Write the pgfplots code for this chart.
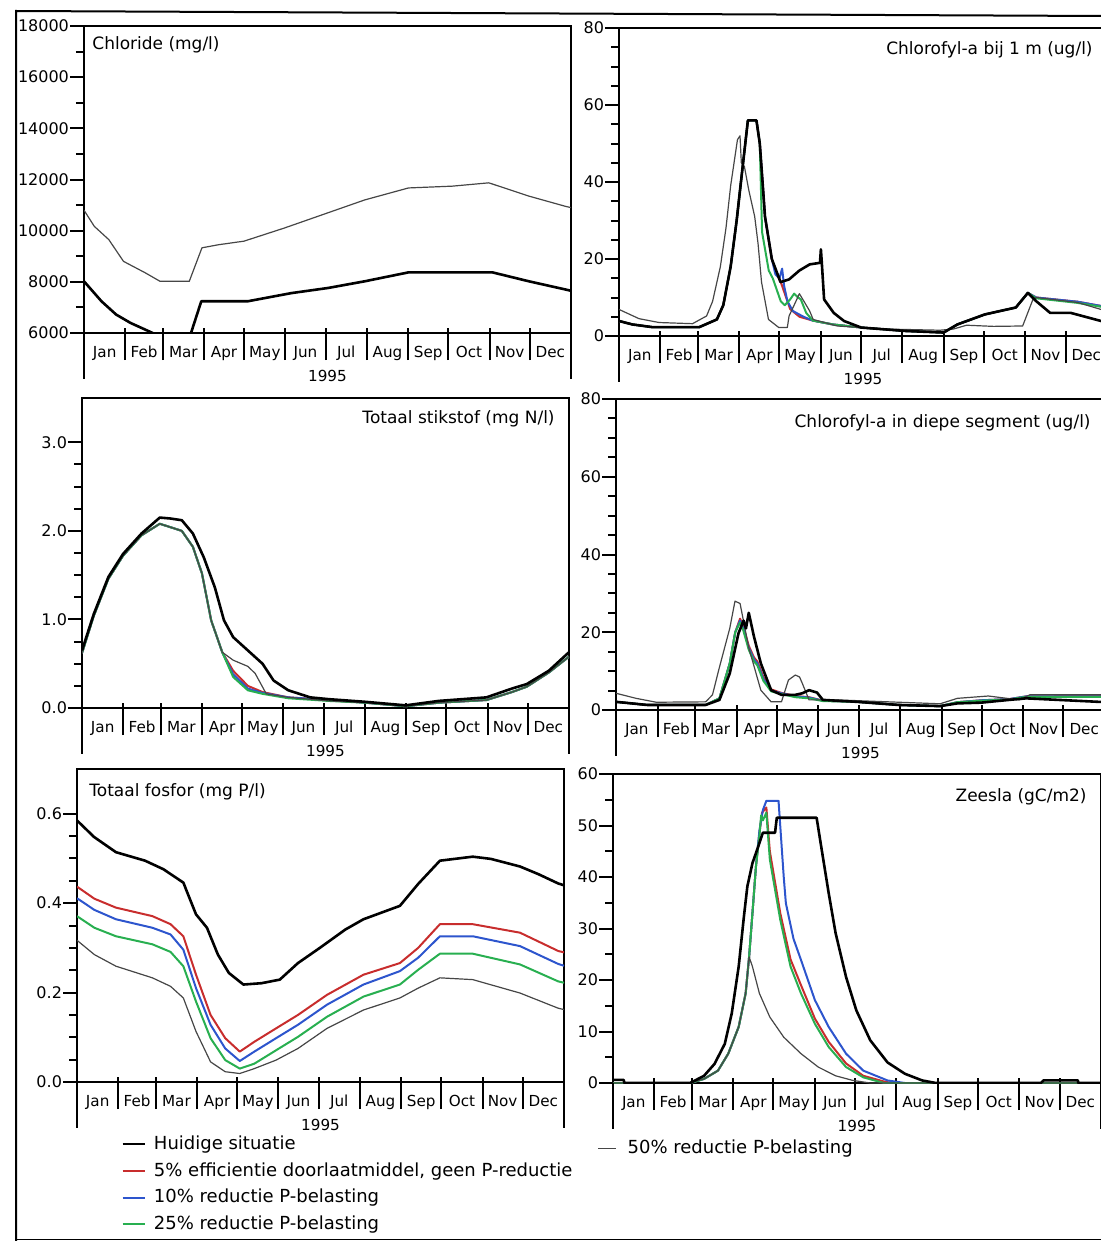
\documentclass[border=0pt]{standalone}
\usepackage{fontspec}
\setmainfont{DejaVu Sans}
\usepackage{pgfplots}
\pgfplotsset{compat=1.18}
\definecolor{cred}{RGB}{200,45,45}
\definecolor{cblue}{RGB}{45,85,205}
\definecolor{cgreen}{RGB}{40,175,80}
\definecolor{cthin}{RGB}{70,70,70}
\newcommand\tkf{\fontsize{7.6}{9}\selectfont}
\newcommand\ykf{\fontsize{8}{9.5}\selectfont}
\newcommand\ttl{\fontsize{8.5}{10}\selectfont}
\pgfplotsset{
  panel/.style={
    scale only axis, anchor=south west, xmin=0, xmax=365,
    clip mode=individual, scaled y ticks=false,
    axis line style={line width=1pt},
    every tick/.style={black, line width=1pt},
    tick align=outside,
    major tick length=7pt, minor tick length=4pt,
    xtick pos=bottom, ytick pos=left,
    xtick={15.5,45,74.5,105,135.5,166,196.5,227.5,258,288.5,319,349.5},
    xticklabels={Jan,Feb,Mar,Apr,May,Jun,Jul,Aug,Sep,Oct,Nov,Dec},
    xtick style={draw=none},
    x tick label style={font=\tkf, yshift=4pt},
    extra x ticks={31,59,90,120,151,181,212,243,273,304,334},
    extra x tick labels={},
    extra x tick style={major tick length=16pt, xtick style={draw=black, yshift=2.5pt}},
    y tick label style={font=\ykf, xshift=3pt},
    xlabel={1995},
    xlabel style={font=\tkf, at={(axis description cs:0.5,0)}, anchor=center, yshift=-21.5pt},
  },
  huidig/.style={black, line width=1.3pt, line join=round},
  pA/.style={color=cred, line width=1pt, line join=round},
  pB/.style={color=cblue, line width=1pt, line join=round},
  pC/.style={color=cgreen, line width=1pt, line join=round},
  pD/.style={color=cthin, line width=0.6pt, line join=round},
}
\begin{document}
\begin{tikzpicture}[x=0.5pt,y=-0.5pt]
\path[use as bounding box] (0,0) rectangle (1101,1241);
\coordinate (o1) at (84,333);
\coordinate (o2) at (619,336);
\coordinate (o3) at (82,708);
\coordinate (o4) at (616,710);
\coordinate (o5) at (77,1082);
\coordinate (o6) at (613,1083);

% ---------------- Chloride
\begin{axis}[panel, name=P1, at={(o1)}, width=243.5pt, height=153.5pt,
  ymin=6000, ymax=18000, ytick={6000,8000,10000,12000,14000,16000,18000},
  yticklabels={6000,8000,10000,12000,14000,16000,18000}, minor y tick num=1]
\addplot[pD] coordinates {(0,10800)(7.7,10170)(18.6,9650)(29.6,8800)(46,8350)(57,8020)(78.9,8020)(88.4,9330)(100.8,9450)(119.9,9590)(150,10100)(182.9,10700)(210.3,11200)(243.2,11670)(276,11740)(303.4,11870)(333.5,11350)(360.9,10950)(365,10900)};
\addplot[huidig] coordinates {(0,8020)(13.1,7240)(24.1,6720)(35,6390)(51.5,6000)(53,5900)(80,5900)(80.2,6000)(87.9,7240)(122.7,7240)(155.5,7560)(182.9,7760)(210.3,8020)(243.2,8370)(276,8370)(306.1,8370)(333.5,8020)(360.9,7700)(365,7650)};
\end{axis}

% ---------------- Chlorofyl-a bij 1 m
\begin{axis}[panel, name=P2, at={(o2)}, width=244pt, height=154pt,
  ymin=0, ymax=80, ytick={0,20,40,60,80}, yticklabels={0,20,40,60,80}, minor y tick num=3]
\addplot[pA] coordinates {(0,3.9)(10,3.0)(25,2.3)(60,2.3)(73.2,4.3)(78,8)(83.5,18)(88,30)(91.2,40)(96.4,56)(102.8,56)(105.3,50)(109.2,31)(114.3,20)(118,16)(121,14)(124,11)(128,7)(135,5)(145,4)(160,3)(181.1,2.2)(214.5,1.3)(242.8,0.9)(253.1,3)(273.6,5.6)(296.8,7.4)(305.8,11.2)(312,10)(343,8.9)(360.5,7.8)(365,7.5)};
\addplot[pB] coordinates {(0,3.9)(10,3.0)(25,2.3)(60,2.3)(73.2,4.3)(78,8)(83.5,18)(88,30)(91.2,40)(96.4,56)(102.8,56)(105.3,50)(109.2,31)(114.3,20)(117,16)(120,15)(122,17.5)(123.5,13)(126,9)(130,6.5)(138,5)(145,4)(160,3)(181.1,2.2)(214.5,1.3)(242.8,0.9)(253.1,3)(273.6,5.6)(296.8,7.4)(305.8,11.2)(312,10)(343,8.9)(360.5,7.8)(365,7.5)};
\addplot[pC] coordinates {(0,3.9)(10,3.0)(25,2.3)(60,2.3)(73.2,4.3)(78,8)(83.5,18)(88,30)(91.2,40)(96.4,56)(102.8,56)(105.3,50)(107,27)(112,17)(115,15)(118,12)(121,9)(124,8)(128,9.5)(131,11)(134,10)(136,9.5)(140,6)(145,4)(160,3)(181.1,2.2)(214.5,1.3)(242.8,0.9)(253.1,3)(273.6,5.6)(296.8,7.4)(305.8,11.2)(312,9.8)(343,8.6)(360.5,7.6)(365,7.3)};
\addplot[pD] coordinates {(0,6.9)(15,4.5)(30,3.5)(55,3.2)(65.5,5.2)(70,9)(75.8,18)(80,28)(83.5,39)(88.6,51)(90.5,52)(91.5,45)(93.8,44)(97,38)(101.5,31)(104,24)(106.6,14)(111.8,4.3)(119.5,2.2)(125.9,2.2)(127.2,5.2)(132.3,9)(134.9,11)(137.5,9.5)(142.6,6.5)(145.2,4.3)(163.2,2.6)(200,1.8)(240,1.5)(250,1.8)(260,2.8)(280,2.5)(301.9,2.6)(309.6,9.5)(312.2,10)(343,8.7)(360.5,6.9)(365,6.5)};
\addplot[huidig] coordinates {(0,3.9)(10,3.0)(25,2.3)(60,2.3)(73.2,4.3)(78,8)(83.5,18)(88,30)(91.2,40)(96.4,56)(102.8,56)(105.3,50)(109.2,31)(114.3,20)(120.8,14)(127.2,14.7)(134.9,17)(142.6,18.6)(150.3,19)(151,22.5)(151.6,19.5)(153.4,9.5)(160.6,6)(168.3,3.9)(181.1,2.2)(214.5,1.3)(242.8,0.9)(253.1,3)(273.6,5.6)(296.8,7.4)(305.8,11.2)(312.2,9)(322.5,6)(337.9,6)(360.5,3.9)(365,3.5)};
\end{axis}

% ---------------- Totaal stikstof
\begin{axis}[panel, name=P3, at={(o3)}, width=243.5pt, height=155pt,
  ymin=0, ymax=3.5, ytick={0,1,2,3}, yticklabels={0.0,1.0,2.0,3.0}, minor y tick num=3]
\addplot[pA] coordinates {(0,0.62)(8.8,1.04)(19.8,1.46)(30.8,1.72)(44.6,1.95)(58.3,2.08)(74.8,2.0)(83.1,1.82)(89.9,1.52)(96.8,0.99)(105.1,0.63)(113.3,0.42)(124.3,0.25)(135.3,0.18)(154.6,0.12)(184.8,0.09)(212.3,0.06)(242.6,0.02)(267.3,0.06)(303.1,0.09)(322.3,0.18)(333.3,0.24)(349.8,0.40)(365,0.58)};
\addplot[pB] coordinates {(0,0.62)(8.8,1.04)(19.8,1.46)(30.8,1.72)(44.6,1.95)(58.3,2.08)(74.8,2.0)(83.1,1.82)(89.9,1.52)(96.8,0.99)(105.1,0.63)(113.3,0.38)(124.3,0.22)(135.3,0.17)(154.6,0.12)(184.8,0.09)(212.3,0.06)(242.6,0.02)(267.3,0.06)(303.1,0.09)(322.3,0.18)(333.3,0.24)(349.8,0.40)(365,0.58)};
\addplot[pC] coordinates {(0,0.62)(8.8,1.04)(19.8,1.46)(30.8,1.72)(44.6,1.95)(58.3,2.08)(74.8,2.0)(83.1,1.82)(89.9,1.52)(96.8,0.99)(105.1,0.63)(113.3,0.35)(124.3,0.20)(135.3,0.16)(154.6,0.11)(184.8,0.08)(212.3,0.06)(242.6,0.02)(267.3,0.06)(303.1,0.09)(322.3,0.18)(333.3,0.24)(349.8,0.40)(365,0.58)};
\addplot[pD] coordinates {(0,0.62)(8.8,1.04)(19.8,1.46)(30.8,1.72)(44.6,1.95)(58.3,2.08)(74.8,2.0)(83.1,1.82)(89.9,1.52)(96.8,0.99)(105.1,0.63)(113.3,0.54)(124.3,0.47)(129.8,0.39)(138.1,0.16)(154.6,0.12)(184.8,0.08)(212.3,0.06)(242.6,0.02)(267.3,0.06)(303.1,0.09)(322.3,0.18)(333.3,0.24)(349.8,0.40)(365,0.58)};
\addplot[huidig] coordinates {(0,0.65)(8.8,1.06)(19.8,1.48)(30.8,1.74)(44.6,1.97)(58.3,2.15)(66,2.14)(74.8,2.12)(83.1,1.97)(91.3,1.70)(99.6,1.36)(106.4,0.99)(113.3,0.80)(124.3,0.65)(135.3,0.50)(143.6,0.31)(154.6,0.20)(171.1,0.12)(184.8,0.10)(212.3,0.07)(242.6,0.03)(267.3,0.08)(303.1,0.12)(322.3,0.22)(333.3,0.27)(349.8,0.42)(365,0.63)};
\end{axis}

% ---------------- Chlorofyl-a in diepe segment
\begin{axis}[panel, name=P4, at={(o4)}, width=244.5pt, height=155.5pt,
  ymin=0, ymax=80, ytick={0,20,40,60,80}, yticklabels={0,20,40,60,80}, minor y tick num=3]
\addplot[pA] coordinates {(0,2.1)(23.2,1.3)(66.9,1.3)(77.2,3)(84.9,12)(89,20)(92.6,23.5)(95,21.5)(99.1,16.5)(103,13.5)(105.5,12.5)(110,8.5)(115.8,5.3)(123.5,4.4)(133.8,3.6)(144.1,3.3)(154.4,2.4)(180.1,2.1)(211,1.3)(241.9,1.0)(254.8,2.0)(272.8,2.5)(293.4,2.8)(306.2,3.5)(360.3,3.6)(365,3.6)};
\addplot[pB] coordinates {(0,2.1)(23.2,1.3)(66.9,1.3)(77.2,3)(84.9,12)(89,20)(92.6,23)(95,21)(99.1,16)(103,13)(105.5,12)(110,8)(115.8,5)(123.5,4.3)(133.8,3.5)(144.1,3.2)(154.4,2.4)(180.1,2.1)(211,1.3)(241.9,1.0)(254.8,2.0)(272.8,2.5)(293.4,2.8)(306.2,3.5)(360.3,3.5)(365,3.5)};
\addplot[pC] coordinates {(0,2.1)(23.2,1.3)(66.9,1.3)(77.2,3)(84.9,12)(89,20)(92.6,22.5)(95,20.5)(99.1,15.5)(103,12.5)(105.5,11.5)(110,7.5)(115.8,4.8)(123.5,4.1)(133.8,3.3)(144.1,3.0)(154.4,2.3)(180.1,2.1)(211,1.3)(241.9,1.0)(254.8,2.0)(272.8,2.4)(293.4,2.7)(306.2,3.4)(360.3,3.4)(365,3.4)};
\addplot[pD] coordinates {(0,4.3)(15,3)(30,2)(66.9,2.1)(72,3.9)(77.2,11)(84.9,21)(88.8,28)(92.6,27.4)(99.1,16)(108.1,5.1)(115.8,2.1)(123.5,2.1)(128.7,7.7)(133.8,9)(137,8.5)(139,6.9)(144.1,2.6)(164.7,2.6)(211,2.0)(241.9,1.6)(254.8,3.0)(277.9,3.6)(301.1,2.6)(308.8,3.9)(360.3,3.9)(365,3.9)};
\addplot[huidig] coordinates {(0,2.1)(23.2,1.3)(66.9,1.3)(77.2,2.6)(84.9,9.4)(91.4,19.7)(95.2,23)(97,21)(99.1,25)(102.9,19)(108.1,12)(115.8,5.1)(123.5,3.9)(133.8,3.9)(139,4.3)(144.1,5.1)(150,4.5)(154.4,2.6)(180.1,2.1)(211,1.3)(241.9,1.0)(254.8,1.7)(272.8,1.9)(293.4,2.6)(306.2,3.0)(360.3,2.1)(365,2.1)};
\end{axis}

% ---------------- Totaal fosfor
\begin{axis}[panel, name=P5, at={(o5)}, width=243.5pt, height=156.5pt,
  ymin=0, ymax=0.7, ytick={0,0.2,0.4,0.6}, yticklabels={0.0,0.2,0.4,0.6}, minor y tick num=3,
  legend style={at={(axis description cs:0.078,-0.144)}, anchor=north west, draw=none, fill=none,
    font=\fontsize{9}{10.8}\selectfont, row sep=1.1pt},
  legend cell align=left,
  legend image code/.code={\draw[#1] (0pt,0pt) -- (11pt,0pt); \path (13pt,0pt);}]
\addplot[huidig] coordinates {(0,0.585)(12.8,0.548)(29.2,0.514)(51,0.495)(64.7,0.476)(79.7,0.446)(89.2,0.375)(97.4,0.345)(105.6,0.285)(113.8,0.244)(124.7,0.218)(138.3,0.221)(152,0.229)(165.6,0.266)(182,0.3)(201.1,0.341)(214.7,0.364)(242,0.394)(255.7,0.443)(272,0.495)(296.6,0.504)(310.2,0.499)(332,0.482)(345.7,0.465)(360.7,0.444)(365,0.440)};
\addlegendentry{Huidige situatie}
\addplot[pA] coordinates {(0,0.437)(13,0.41)(29.2,0.39)(56.5,0.371)(70.1,0.353)(79.7,0.326)(89.2,0.24)(100.1,0.15)(111.1,0.098)(122,0.068)(132.9,0.09)(149.2,0.12)(165.6,0.15)(187.4,0.195)(214.7,0.24)(242,0.266)(255.7,0.3)(272,0.353)(296.6,0.353)(332,0.334)(360.7,0.293)(365,0.29)};
\addlegendentry{5\% efficientie doorlaatmiddel, geen P-reductie}
\addplot[pB] coordinates {(0,0.411)(13,0.385)(29.2,0.364)(56.5,0.345)(70.1,0.33)(79.7,0.296)(89.2,0.21)(100.1,0.128)(111.1,0.075)(122,0.047)(132.9,0.068)(149.2,0.098)(165.6,0.128)(187.4,0.173)(214.7,0.218)(242,0.248)(255.7,0.278)(272,0.326)(296.6,0.326)(332,0.304)(360.7,0.264)(365,0.26)};
\addlegendentry{10\% reductie P-belasting}
\addplot[pC] coordinates {(0,0.371)(13,0.345)(29.2,0.326)(56.5,0.308)(70.1,0.291)(79.7,0.259)(89.2,0.18)(100.1,0.098)(111.1,0.049)(122,0.03)(132.9,0.041)(149.2,0.071)(165.6,0.101)(187.4,0.146)(214.7,0.191)(242,0.218)(255.7,0.251)(272,0.287)(296.6,0.287)(332,0.263)(360.7,0.225)(365,0.222)};
\addlegendentry{25\% reductie P-belasting}
\addplot[pD] coordinates {(0,0.317)(13,0.285)(29.2,0.259)(56.5,0.233)(70.1,0.214)(79.7,0.188)(89.2,0.113)(100.1,0.045)(111.1,0.023)(122,0.019)(132.9,0.03)(149.2,0.049)(165.6,0.075)(187.4,0.12)(214.7,0.161)(242,0.188)(255.7,0.21)(272,0.233)(296.6,0.229)(332,0.199)(360.7,0.165)(365,0.162)};
\end{axis}

% ---------------- Zeesla
\begin{axis}[panel, name=P6, at={(o6)}, width=244pt, height=154.5pt,
  ymin=0, ymax=60, ytick={0,10,20,30,40,50,60}, yticklabels={0,10,20,30,40,50,60}, minor y tick num=1,
  legend style={at={(axis description cs:-0.045,-0.157)}, anchor=north west, draw=none, fill=none,
    font=\fontsize{9}{10.8}\selectfont},
  legend cell align=left,
  legend image code/.code={\draw[#1] (0pt,0pt) -- (9pt,0pt); \path (12.5pt,0pt);}]
\addplot[pA, forget plot] coordinates {(0,0)(57.7,0)(68.1,0.8)(78.5,2.4)(86.2,5.7)(94,10.9)(99.2,17.4)(101.8,24.5)(104.3,33)(106.9,42)(109.5,48.5)(111.5,52.5)(114.7,53.5)(117.3,45)(125.1,33)(132.8,24)(140.6,19)(151,12.5)(161.3,8)(174.3,3.8)(187.2,1.4)(204,0.2)(210,0)(365,0)};
\addplot[pB, forget plot] coordinates {(0,0)(57.7,0)(68.1,0.8)(78.5,2.4)(86.2,5.7)(94,10.9)(99.2,17.4)(101.8,24.5)(104.3,33)(106.9,42)(109.5,49)(112.1,53)(114.7,54.8)(123.8,54.8)(125.1,49.9)(127.7,40)(129.3,34.9)(135,28)(140.6,23.9)(151,16.1)(161.3,10.9)(174.3,5.7)(187.2,2.4)(205.3,0.5)(218.3,0)(365,0)};
\addplot[pC, forget plot] coordinates {(0,0)(57.7,0)(68.1,0.8)(78.5,2.4)(86.2,5.7)(94,10.9)(99.2,17.4)(101.8,24.5)(104.3,33)(106.9,42)(109.5,48)(110.8,52)(112.1,51)(114.7,52.5)(117.3,43.4)(125.1,31.7)(132.8,22.6)(140.6,17.4)(151,11.5)(161.3,7)(174.3,3.1)(187.2,1.1)(202.7,0)(365,0)};
\addplot[pD, forget plot] coordinates {(0,0)(57.7,0)(68.1,0.8)(78.5,2.4)(86.2,5.7)(94,10.9)(99.2,17.4)(101.8,24.5)(104.3,22.6)(109.5,17.4)(117.3,12.8)(127.7,8.9)(140.6,5.7)(153.5,3.1)(166.5,1.4)(179.4,0.5)(192.4,0)(365,0)};
\addplot[huidig, forget plot] coordinates {(0,0.6)(8,0.6)(8.5,0)(57.7,0)(68.1,1.4)(75.9,3.7)(83.6,7.6)(88.8,13.5)(94,22.6)(97.9,32.3)(100.5,38.2)(104.3,42.7)(108.2,45.6)(112.1,48.6)(121.2,48.6)(122.5,51.5)(152.3,51.5)(156.1,45.3)(161.3,36.9)(166.5,29.1)(174.3,20.6)(182,14.1)(192.4,8.3)(205.3,4)(218.3,1.8)(231.2,0.5)(241.6,0)(320,0)(322,0.5)(347.7,0.5)(348,0)(365,0)};
\addlegendimage{pD}
\addlegendentry{50\% reductie P-belasting}
\end{axis}

% frame extensions below the zero lines
\foreach \p in {P1,P2,P3,P4,P5,P6}{
  \draw[line width=1pt] (\p.south west) -- ++(0,46);
  \draw[line width=1pt] (\p.south east) -- ++(0,46);
}
% panel titles
\begin{scope}[every node/.style={inner sep=0pt, font=\ttl}]
\node[anchor=west] at (92,45) {Chloride (mg/l)};
\node[anchor=east] at (1093,50) {Chlorofyl-a bij 1 m (ug/l)};
\node[anchor=east] at (555,419) {Totaal stikstof (mg N/l)};
\node[anchor=east] at (1091,423) {Chlorofyl-a in diepe segment (ug/l)};
\node[anchor=west] at (89,792) {Totaal fosfor (mg P/l)};
\node[anchor=east] at (1087,797) {Zeesla (gC/m2)};
\end{scope}
% outer frame
\draw[line width=1pt] (16,1241) -- (16,11) -- (1101,16);
\draw[line width=0.8pt] (16,1239.5) -- (1101,1239.5);
\end{tikzpicture}
\end{document}
